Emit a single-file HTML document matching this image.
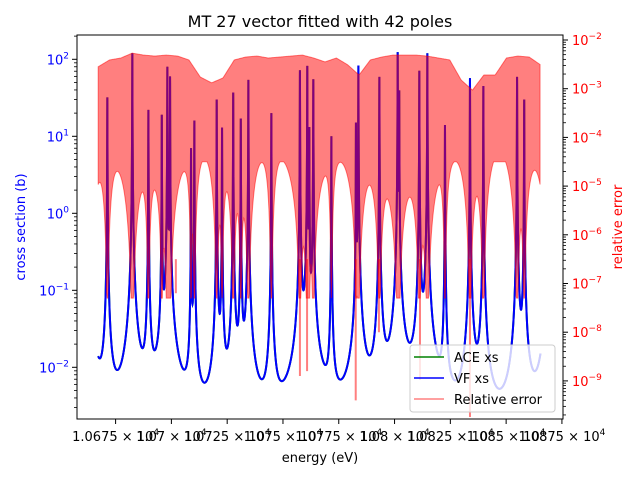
<!DOCTYPE html>
<html><head><meta charset="utf-8">
<style>
body{margin:0;background:#fff;}
svg{display:block;font-family:"DejaVu Sans","Liberation Sans",sans-serif;}
</style></head>
<body>
<svg id="chart" width="640" height="480" viewBox="0 0 640 480" xmlns="http://www.w3.org/2000/svg">
<rect x="0" y="0" width="640" height="480" fill="#fff"/>
<text x="320" y="27" text-anchor="middle" font-size="16" fill="#000">MT 27 vector fitted with 42 poles</text>
<g id="plot"></g>
<rect x="77" y="35" width="486" height="384" fill="none" stroke="#000" stroke-width="1"/>
<g id="axes"></g>
<text x="320" y="462" text-anchor="middle" font-size="13" fill="#000">energy (eV)</text>
<text transform="translate(25,227) rotate(-90)" text-anchor="middle" font-size="13" fill="#0000ff">cross section (b)</text>
<text transform="translate(622,227) rotate(-90)" text-anchor="middle" font-size="13" fill="#ff0000">relative error</text>
<g>
<rect x="410" y="345" width="145" height="67" rx="3" fill="#fff" fill-opacity="0.8" stroke="#ccc"/>
<line x1="414" y1="357" x2="444" y2="357" stroke="#008000" stroke-width="1.5"/>
<text x="454" y="362" font-size="13">ACE xs</text>
<line x1="414" y1="378" x2="444" y2="378" stroke="#0000ff" stroke-width="1.5"/>
<text x="454" y="383" font-size="13">VF xs</text>
<line x1="414" y1="399" x2="444" y2="399" stroke="#ff8080" stroke-width="1.5"/>
<text x="454" y="404" font-size="13">Relative error</text>
</g>
</svg>
<script>
const resE = [10663.0,10671.3,10682.5,10689.7,10695.7,10698.2,10699.4,10708.8,10710.3,10720.3,10722.7,10727.7,10731.1,10734.5,10744.8,10757.6,10760.9,10761.8,10763.6,10771.7,10782.7,10783.8,10793.2,10801.4,10802.1,10811.1,10814.7,10822.6,10833.8,10839.8,10854.9,10858.1,10869.0];
const resH = [100,32,120,22,19,80,60,7,16,30,13,37,17,54,20,72,82,13,55,10,15,83,59,124,39,71,120,14,57,45,59,30,100];
const resW = 0.04;
const bgXs = 0.0005;
const eStart = 10667.2, eEnd = 10865.4;
const errTopLog = [-2.55,-2.41,-2.37,-2.27,-2.31,-2.33,-2.31,-2.33,-2.41,-2.76,-2.88,-2.78,-2.41,-2.35,-2.33,-2.37,-2.35,-2.33,-2.31,-2.37,-2.45,-2.37,-2.51,-2.72,-2.41,-2.35,-2.31,-2.31,-2.31,-2.33,-2.37,-2.41,-2.82,-3.03,-2.72,-2.72,-2.37,-2.33,-2.35,-2.51];
const spikeE = [10782.6,10760.8,10757.6,10811.4,10793.0,10833.8,10702.0];
const spikeLog = [-9.4,-8.8,-8.9,-8.98,-8.0,-9.74,-7.2];
const xTicks = [10675,10700,10725,10750,10775,10800,10825,10850,10875];
const xTickLabels = ["1.0675","1.07","1.0725","1.075","1.0775","1.08","1.0825","1.085","1.0875"];
const leftTicks = [2,1,0,-1,-2];
const rightTicks = [-2,-3,-4,-5,-6,-7,-8,-9];

(function(){
const NS="http://www.w3.org/2000/svg";
function xPx(E){return 115.6+(E-10675)*2.2316;}
function yL(v){return 59.3-(Math.log10(v)-2)*77;}
function yRlog(l){return 40-(l+2)*48.7;}
function mk(tag,attrs,parent){const e=document.createElementNS(NS,tag);for(const k in attrs)e.setAttribute(k,attrs[k]);parent.appendChild(e);return e;}
function xs(E){let s=bgXs;for(let i=0;i<resE.length;i++){const d=E-resE[i];s+=resH[i]*resW*resW/(d*d+resW*resW);}return s;}

const plot=document.getElementById('plot');
const axes=document.getElementById('axes');
let Es=[];
for(let E=eStart;E<=eEnd;E+=0.05)Es.push(E);
resE.forEach(e=>{if(e>eStart&&e<eEnd){Es.push(e);Es.push(e-0.02);Es.push(e+0.02);}});
Es.sort((a,b)=>a-b);
let d="";
Es.forEach((E,i)=>{d+=(i?"L":"M")+xPx(E).toFixed(2)+" "+yL(xs(E)).toFixed(2);});
const ace=mk('path',{d:d,fill:"none",stroke:"#008000","stroke-width":2},plot);


const vf=mk('path',{d:d,fill:"none",stroke:"#0000ff","stroke-width":2},plot);


function topAt(E){const t=(E-eStart)/(eEnd-eStart)*(errTopLog.length-1);const i=Math.max(0,Math.min(Math.floor(t),errTopLog.length-2));const f=t-i;return errTopLog[i]*(1-f)+errTopLog[i+1]*f;}
let topD="";
let ES=[];
for(let E=eStart;E<=eEnd;E+=0.25)ES.push(E);
resE.forEach(e=>{if(e>eStart&&e<eEnd)ES.push(e);});
ES.sort((a,b)=>a-b);
ES.forEach((E,i)=>{topD+=(i?"L":"M")+xPx(E).toFixed(2)+" "+yRlog(topAt(E)).toFixed(2);});
let bd="";
for(let i=ES.length-1;i>=0;i--){const E=ES[i];let l=-4.6-1.5*(Math.log10(xs(E))+2.1);l=Math.max(-7.3,Math.min(-4.5,l));bd+="L"+xPx(E).toFixed(2)+" "+yRlog(l).toFixed(2);}
const band=mk('path',{d:topD+bd+"Z",fill:"#ff0000","fill-opacity":0.5,stroke:"#ff0000","stroke-opacity":0.5,"stroke-width":1},plot);


spikeE.forEach((E,i)=>{
  const s=mk('line',{x1:xPx(E),x2:xPx(E),y1:yRlog(-6.5),y2:yRlog(spikeLog[i]),stroke:"#ff0000","stroke-opacity":0.5,"stroke-width":2},plot);
  
  
});
xTicks.forEach((t,i)=>{
  const x=xPx(t);
  const tk=mk('line',{x1:x,x2:x,y1:419,y2:424,stroke:"#000"},axes);
  
  
  const tx=mk('text',{x:x,y:441,"text-anchor":"middle","font-size":13},axes);
  
  
  tx.textContent=xTickLabels[i]+" \u00d7 10";
  const sp=mk('tspan',{dy:-6,"font-size":9},tx);sp.textContent="4";
});
leftTicks.forEach(p=>{
  const y=yL(Math.pow(10,p));
  const tk=mk('line',{x1:72,x2:77,y1:y,y2:y,stroke:"#000"},axes);
  
  
  const tx=mk('text',{x:69,y:y+5,"text-anchor":"end","font-size":13,fill:"#0000ff"},axes);
  
  
  tx.textContent="10";
  const sp=mk('tspan',{dy:-6,"font-size":9},tx);sp.textContent=p<0?"\u2212"+(-p):String(p);
});
for(let p=-3;p<=2;p++)for(let m=2;m<=9;m++){const y=yL(m*Math.pow(10,p));if(y<35||y>419)continue;mk('line',{x1:74,x2:77,y1:y,y2:y,stroke:"#000","stroke-width":0.8},axes);}
rightTicks.forEach(p=>{
  const y=yRlog(p);
  const tk=mk('line',{x1:563,x2:568,y1:y,y2:y,stroke:"#000"},axes);
  
  
  const tx=mk('text',{x:572,y:y+5,"font-size":13,fill:"#ff0000"},axes);
  
  
  tx.textContent="10";
  const sp=mk('tspan',{dy:-6,"font-size":9},tx);sp.textContent="\u2212"+(-p);
});
for(let p=-10;p<=-2;p++)for(let m=2;m<=9;m++){const y=yRlog(p+Math.log10(m));if(y<35||y>419)continue;mk('line',{x1:563,x2:566,y1:y,y2:y,stroke:"#000","stroke-width":0.8},axes);}
})();
</script>
</body></html>
